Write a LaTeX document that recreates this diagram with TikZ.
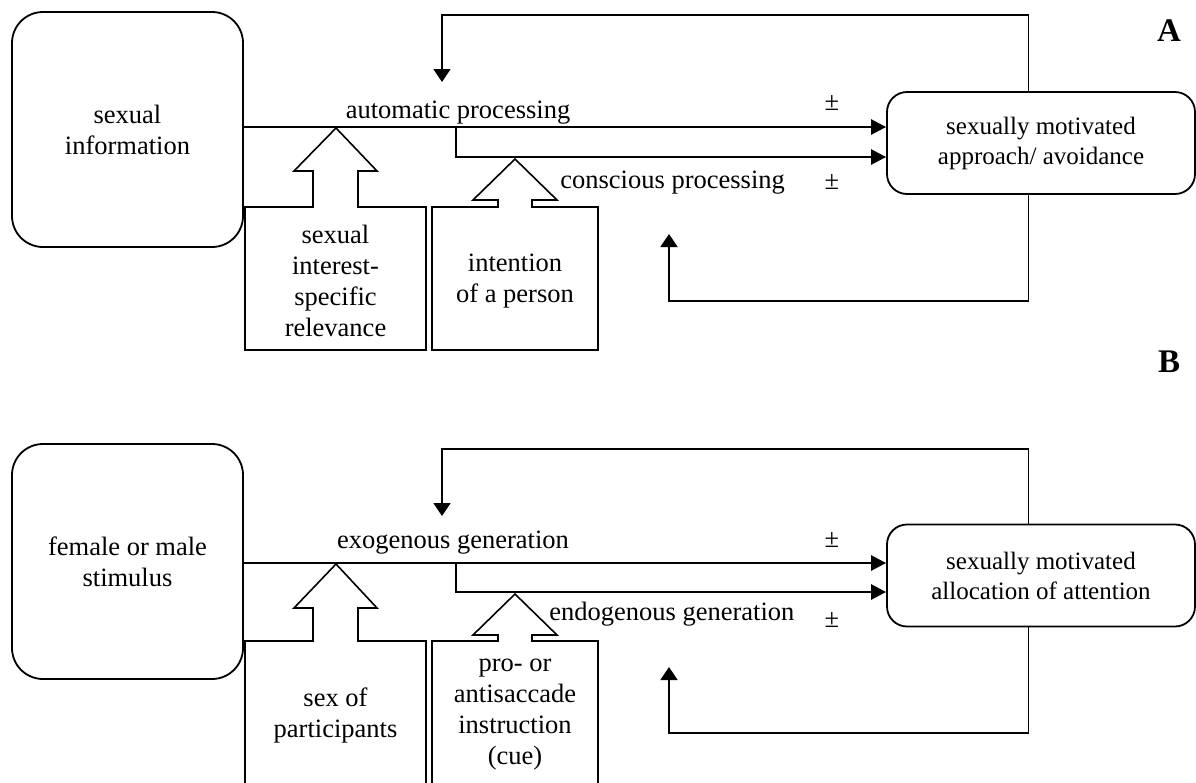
\documentclass[tikz,border=0pt]{standalone}
\usepackage{fontspec}
\setmainfont{Liberation Serif}
\usetikzlibrary{arrows.meta}
\tikzset{flow/.style={-{Triangle[length=7.5pt,width=7.5pt]},line width=1.3pt},
back/.style={-{Triangle[length=6.5pt,width=8.5pt]},line width=0.9pt},
src/.style={draw,line width=0.9pt,rounded corners=15.5pt,minimum width=115.5pt,minimum height=117.5pt,align=center},
goal/.style={draw,line width=0.9pt,rounded corners=10pt,minimum width=154pt,minimum height=51pt,align=center,font=\fontsize{12.5}{15}\selectfont},
blk/.style={line width=0.8pt,line join=miter},
txt/.style={align=center,inner sep=0pt},
lbl/.style={anchor=base,inner sep=0pt},
tag/.style={font=\bfseries\fontsize{16.5}{18}\selectfont,inner sep=0pt}}

\begin{document}
\begin{tikzpicture}[x=0.5pt,y=-0.5pt,font=\fontsize{13.25}{15.5}\selectfont]
\clip (0,0) rectangle (1196,783);
% panel A
\node[src] (infoA) at (127.5,129.5) {sexual\\information};
\node[goal] (goalA) at (1041,143) {sexually motivated\\approach/ avoidance};
\coordinate (splitA) at (456,127);
\coordinate (lowA) at (456,157);
\draw[flow] (infoA.east |- splitA) -- (goalA.west |- splitA);
\draw[flow] (splitA) -- (lowA) -- (goalA.west |- lowA);
\coordinate (topA) at (442,15);
\coordinate (inA) at (442,82);
\coordinate (botA) at (669,301);
\coordinate (outA) at (669,234);
\draw[back] ([xshift=-6.25pt]goalA.north) |- (topA) -- (inA);
\draw[back] ([xshift=-6.25pt]goalA.south) |- (botA) -- (outA);
\draw[blk] (245,207) -- (313,207) -- (313,171) -- (294,171) -- (336,128) -- (377,171) -- (358,171) -- (358,207) -- (426,207) -- (426,350) -- (245,350) -- cycle;
\draw[blk] (432,207) -- (498,207) -- (498,200) -- (473,200) -- (515,159) -- (557,200) -- (532,200) -- (532,207) -- (598,207) -- (598,350) -- (432,350) -- cycle;
\node[txt] (relA) at (335.5,281) {sexual\\interest-\\specific\\relevance};
\node[txt] (intA) at (515,281) {intention\\of a person};
\node[lbl] (autoA) at (458,118) {automatic processing};
\node[lbl,anchor=base west] (consA) at (560,188) {conscious processing};
\node[lbl] (pmA1) at (832,110) {±};
\node[lbl] (pmA2) at (832,189) {±};
\node[tag] (tagA) at (1169,31) {A};
% panel B
\node[src] (infoB) at (127.5,561.5) {female or male\\stimulus};
\node[goal] (goalB) at (1041,575.5) {sexually motivated\\allocation of attention};
\coordinate (splitB) at (456,563);
\coordinate (lowB) at (456,592);
\draw[flow] (infoB.east |- splitB) -- (goalB.west |- splitB);
\draw[flow] (splitB) -- (lowB) -- (goalB.west |- lowB);
\coordinate (topB) at (442,449);
\coordinate (inB) at (442,516);
\coordinate (botB) at (669,733);
\coordinate (outB) at (669,667);
\draw[back] ([xshift=-6.25pt]goalB.north) |- (topB) -- (inB);
\draw[back] ([xshift=-6.25pt]goalB.south) |- (botB) -- (outB);
\draw[blk] (245,641) -- (313,641) -- (313,608) -- (294,608) -- (336,564) -- (377,608) -- (358,608) -- (358,641) -- (426,641) -- (426,790) -- (245,790) -- cycle;
\draw[blk] (432,641) -- (498,641) -- (498,635) -- (473,635) -- (515,594) -- (557,635) -- (532,635) -- (532,641) -- (598,641) -- (598,790) -- (432,790) -- cycle;
\node[txt] (sexB) at (335.5,715) {sex of\\participants};
\node[txt] (cueB) at (515,715) {pro- or\\antisaccade\\instruction\\(cue)};
\node[lbl] (exoB) at (453,548) {exogenous generation};
\node[lbl,anchor=base west] (endoB) at (549,620) {endogenous generation};
\node[lbl] (pmB1) at (832,547) {±};
\node[lbl] (pmB2) at (832,627) {±};
\node[tag] (tagB) at (1169,362) {B};
\end{tikzpicture}
\end{document}
